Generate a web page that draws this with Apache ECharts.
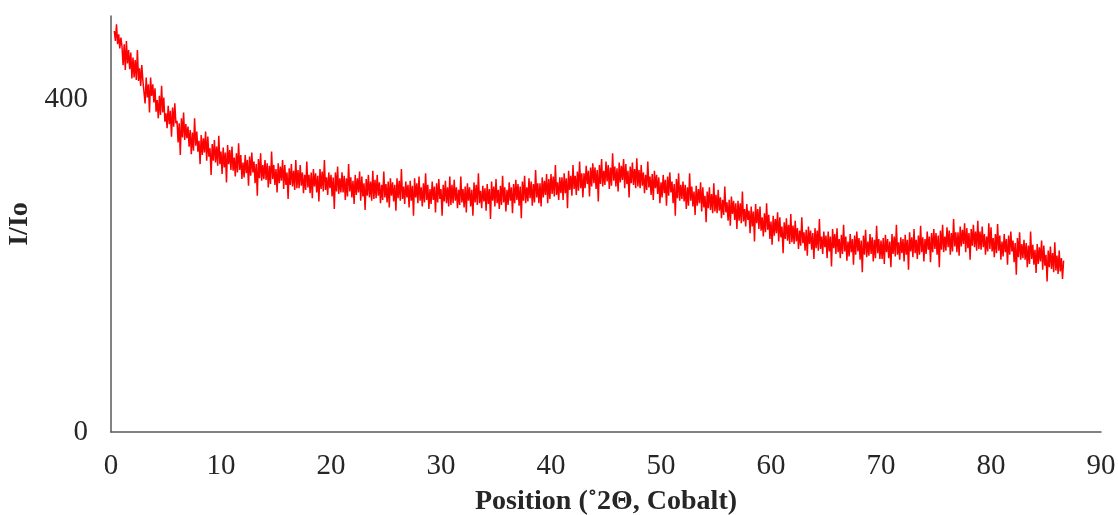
<!DOCTYPE html>
<html>
<head>
<meta charset="utf-8">
<title>I/Io vs Position</title>
<script src="https://cdn.jsdelivr.net/npm/echarts@6/dist/echarts.min.js"></script>
<style>
  html, body { margin: 0; padding: 0; background: #ffffff; }
  #chart { width: 1118px; height: 515px; }
</style>
</head>
<body>
<div id="chart"></div>
<script>
// Diffraction scan, intensities sampled every 0.1 degree 2-theta.
const scanStep = 0.1;

// 0.3 .. 9.9
const int00 = [482, 470, 490, 466, 478, 461, 474,
  463, 441, 466, 435, 470, 443, 459, 436, 456, 425,
  450, 426, 447, 423, 459, 422, 437, 416, 441, 422,
  422, 395, 426, 402, 418, 384, 426, 404, 418, 396,
  413, 385, 399, 377, 404, 381, 416, 384, 402, 373,
  383, 365, 392, 370, 386, 355, 390, 367, 395, 371,
  374, 348, 371, 333, 377, 354, 384, 351, 370, 353,
  367, 343, 363, 334, 360, 338, 377, 344, 361, 337,
  350, 322, 357, 333, 353, 336, 361, 326, 355, 331,
  341, 309, 346, 326, 351, 324, 343, 320, 356, 322];
// 10.0 .. 19.9
const int10 = [337, 310, 342, 318, 336, 300, 345, 322, 339, 315,
  343, 314, 330, 307, 335, 312, 347, 315, 333, 304,
  324, 306, 333, 311, 327, 296, 331, 308, 336, 312,
  325, 299, 322, 284, 328, 305, 335, 302, 321, 304,
  327, 303, 323, 294, 320, 298, 337, 304, 321, 297,
  316, 288, 323, 299, 319, 302, 327, 292, 321, 297,
  312, 280, 317, 297, 322, 295, 314, 291, 327, 293,
  315, 293, 321, 296, 312, 287, 309, 291, 325, 294,
  309, 287, 312, 281, 316, 295, 311, 288, 308, 277,
  316, 292, 313, 289, 327, 291, 306, 285, 312, 293];
// 20.0 .. 29.9
const int20 = [309, 283, 306, 268, 312, 289, 319, 286, 305, 288,
  312, 288, 308, 279, 305, 283, 322, 289, 306, 282,
  302, 274, 309, 285, 305, 288, 313, 278, 307, 283,
  299, 267, 304, 284, 309, 282, 301, 278, 314, 280,
  303, 281, 309, 284, 300, 275, 297, 279, 313, 282,
  298, 276, 301, 270, 305, 284, 300, 277, 297, 266,
  305, 281, 302, 278, 316, 280, 295, 274, 301, 282,
  297, 270, 302, 278, 296, 260, 305, 282, 299, 275,
  307, 278, 294, 271, 299, 276, 311, 279, 297, 268,
  292, 274, 301, 279, 295, 264, 299, 276, 304, 280];
// 30.0 .. 39.9
const int30 = [292, 260, 297, 277, 302, 275, 294, 271, 307, 273,
  297, 275, 303, 278, 294, 269, 291, 273, 307, 276,
  292, 270, 295, 264, 299, 278, 294, 271, 291, 260,
  300, 276, 297, 273, 311, 275, 290, 269, 296, 277,
  293, 266, 298, 274, 292, 256, 301, 278, 295, 271,
  304, 275, 291, 268, 296, 273, 308, 276, 294, 265,
  291, 273, 300, 278, 294, 263, 298, 275, 303, 279,
  298, 272, 295, 257, 301, 278, 308, 275, 294, 277,
  305, 281, 301, 272, 298, 276, 315, 282, 299, 275,
  299, 271, 306, 282, 302, 285, 310, 275, 304, 280];
// 40.0 .. 49.9
const int40 = [310, 286, 307, 283, 321, 285, 300, 279, 306, 287,
  306, 279, 311, 287, 305, 269, 314, 291, 308, 284,
  321, 292, 308, 285, 313, 290, 325, 293, 311, 282,
  311, 293, 320, 298, 314, 283, 318, 295, 323, 299,
  318, 292, 315, 277, 321, 298, 328, 295, 314, 297,
  325, 301, 321, 292, 318, 296, 335, 302, 319, 295,
  317, 289, 324, 300, 320, 303, 328, 293, 322, 298,
  314, 282, 319, 299, 324, 297, 316, 293, 329, 295,
  315, 293, 321, 296, 312, 287, 309, 291, 325, 294,
  307, 285, 310, 279, 314, 293, 309, 286, 306, 275];
// 50.0 .. 59.9
const int50 = [300, 282, 309, 287, 303, 272, 307, 284, 312, 288,
  301, 275, 298, 260, 304, 281, 311, 278, 297, 280,
  301, 277, 297, 268, 294, 272, 311, 278, 295, 271,
  289, 261, 296, 272, 292, 275, 300, 265, 294, 270,
  284, 252, 289, 269, 294, 267, 286, 263, 299, 265,
  285, 263, 291, 266, 282, 257, 279, 261, 295, 264,
  276, 254, 279, 248, 283, 262, 278, 255, 275, 244,
  278, 254, 275, 251, 289, 253, 268, 247, 274, 255,
  266, 239, 271, 247, 265, 229, 274, 251, 268, 244,
  271, 242, 258, 235, 263, 240, 275, 243, 261, 232];
// 60.0 .. 69.9
const int60 = [253, 225, 260, 236, 256, 239, 264, 229, 258, 234,
  247, 215, 252, 232, 257, 230, 249, 226, 262, 228,
  248, 226, 254, 229, 245, 220, 242, 224, 258, 227,
  240, 218, 243, 212, 247, 226, 242, 219, 239, 208,
  245, 221, 242, 218, 256, 220, 235, 214, 241, 222,
  236, 209, 241, 217, 235, 199, 244, 221, 238, 214,
  245, 216, 232, 209, 237, 214, 249, 217, 235, 206,
  229, 211, 238, 216, 232, 201, 236, 213, 241, 217,
  233, 207, 230, 192, 236, 213, 243, 210, 229, 212,
  238, 214, 234, 205, 231, 209, 248, 215, 232, 208];
// 70.0 .. 79.9
const int70 = [230, 208, 233, 202, 237, 216, 232, 209, 229, 198,
  238, 214, 235, 211, 249, 213, 228, 207, 234, 215,
  232, 205, 237, 213, 231, 195, 240, 217, 234, 210,
  244, 215, 231, 208, 236, 213, 248, 216, 234, 205,
  232, 214, 241, 219, 235, 204, 239, 216, 244, 220,
  239, 213, 236, 198, 242, 219, 249, 216, 235, 218,
  246, 222, 242, 213, 239, 217, 256, 223, 240, 216,
  240, 212, 247, 223, 243, 226, 251, 216, 245, 221,
  239, 207, 244, 224, 249, 222, 241, 218, 254, 220,
  241, 219, 247, 222, 238, 213, 235, 217, 251, 220];
// 80.0 .. 86.6
const int80 = [246, 217, 233, 210, 238, 215, 250, 218, 236, 207,
  229, 211, 238, 216, 232, 201, 236, 213, 241, 217,
  230, 204, 227, 189, 233, 210, 240, 207, 226, 209,
  231, 207, 227, 198, 224, 202, 241, 208, 225, 201,
  219, 191, 226, 202, 222, 205, 230, 195, 224, 200,
  213, 181, 218, 198, 223, 196, 215, 192, 228, 194,
  212, 190, 218, 193, 209, 184, 206];

// Each block with the 2-theta of its first sample
const scanBlocks = [
  [0.3, int00], [10, int10], [20, int20], [30, int30], [40, int40],
  [50, int50], [60, int60], [70, int70], [80, int80]
];

const yTickLabels = [0, 400];

const points = [];
scanBlocks.forEach(([start, values]) => {
  values.forEach((v, i) => {
    points.push([Math.round((start + i * scanStep) * 10) / 10, v]);
  });
});

const serif = '"Liberation Serif", "Times New Roman", serif';
const axisColor = '#595959';
const textColor = '#262626';

const chart = echarts.init(document.getElementById('chart'), null, { renderer: 'canvas' });
chart.setOption({
  animation: false,
  backgroundColor: '#ffffff',
  grid: {
    left: 111, right: 17, top: 16, bottom: 83,
    containLabel: false,
    outerBoundsMode: 'none'
  },
  xAxis: {
    type: 'value',
    min: 0,
    max: 90,
    interval: 10,
    name: 'Position (\u02DA2\u0398, Cobalt)',
    nameLocation: 'middle',
    nameGap: 56,
    nameTextStyle: { fontFamily: serif, fontSize: 28, fontWeight: 'bold', color: textColor },
    axisLine: { show: true, lineStyle: { color: axisColor, width: 1.5 } },
    axisTick: { show: false },
    splitLine: { show: false },
    axisLabel: { fontFamily: serif, fontSize: 29, color: textColor, margin: 20 }
  },
  yAxis: {
    type: 'value',
    min: 0,
    max: 500,
    interval: 400,
    name: 'I/Io',
    nameLocation: 'middle',
    nameGap: 71,
    nameRotate: 90,
    nameTextStyle: { fontFamily: serif, fontSize: 28, fontWeight: 'bold', color: textColor },
    axisLine: { show: true, lineStyle: { color: axisColor, width: 1.5 } },
    axisTick: { show: false },
    splitLine: { show: false },
    axisLabel: {
      fontFamily: serif, fontSize: 29, color: textColor, margin: 23,
      formatter: v => (yTickLabels.includes(v) ? String(v) : '')
    }
  },
  series: [{
    type: 'line',
    data: points,
    showSymbol: false,
    symbol: 'none',
    sampling: null,
    lineStyle: { color: '#ff0000', width: 1.5 },
    silent: true
  }]
});
</script>
</body>
</html>
